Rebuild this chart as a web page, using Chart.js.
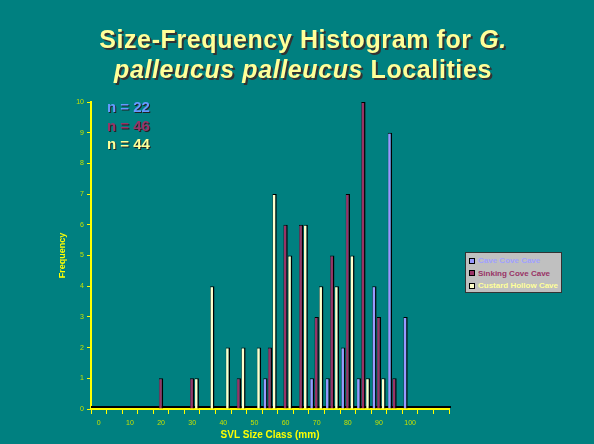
<!DOCTYPE html>
<html>
<head>
<meta charset="utf-8">
<script src="https://cdn.jsdelivr.net/npm/chart.js@4"></script>
<style>
  html, body { margin: 0; padding: 0; background: #008080; }
  #wrap { position: relative; width: 594px; height: 444px; background: #008080; overflow: hidden; }
  #myChart { position: absolute; left: 0; top: 0; }
  .title {
    position: absolute; left: 0; width: 606px; text-align: center;
    font-family: "Liberation Sans", Arial, sans-serif; font-weight: bold; font-size: 25px;
    letter-spacing: 0.6px;
    color: #FFFF99; text-shadow: 2px 2px 0 #333;
    line-height: 30px;
  }
  .ncount {
    position: absolute; left: 107px;
    font-family: "Liberation Sans", Arial, sans-serif; font-weight: bold; font-size: 15px;
    text-shadow: 1px 1px 0 #222;
  }
  #legend {
    position: absolute; left: 465px; top: 252px; width: 97px; height: 41px;
    background: #C0C0C0; border: 1px solid #333; box-sizing: border-box;
    font-family: "Liberation Sans", Arial, sans-serif; font-weight: bold; font-size: 8px;
    padding: 2px 0 0 3px;
  }
  #legend div { height: 12.5px; line-height: 12.5px; white-space: nowrap; }
  #legend span.sw { display: inline-block; width: 4px; height: 4px; border: 1px solid #000; margin-right: 3px; vertical-align: middle; }
</style>
</head>
<body>
<div id="wrap">
  <canvas id="myChart" width="594" height="444"></canvas>
  <div class="title" style="top:24px">Size-Frequency Histogram for <i>G.</i></div>
  <div class="title" style="top:54px"><i>palleucus palleucus</i> Localities</div>
  <div id="counts"></div>
  <div id="legend"></div>
</div>
<script>
// SVL size classes (mm)
const sizeClasses = [0, 5, 10, 15, 20, 25, 30, 35, 40, 45, 50, 55, 60, 65, 70, 75, 80, 85, 90, 95, 100, 105, 110];
const xTickLabels = ['0', '', '10', '', '20', '', '30', '', '40', '', '50', '', '60', '', '70', '', '80', '', '90', '', '100', '', ''];
const yTickLabels = ['0', '1', '2', '3', '4', '5', '6', '7', '8', '9', '10'];

const seriesNames = ['Cave Cove Cave', 'Sinking Cove Cave', 'Custard Hollow Cave'];
const seriesColors = ['#9999FF', '#993366', '#FFFFCC'];
const legendTextColors = ['#A0A0FF', '#993366', '#FFFF99'];
const countColors = ['#6699FF', '#993366', '#FFFF99'];
const sampleSizes = [22, 46, 44];

const caveCove = [0, 0, 0, 0, 0, 0, 0, 0, 0, 0, 0, 1, 0, 0, 1, 1, 2, 1, 4, 9, 3, 0, 0];
const sinkingCove = [0, 0, 0, 0, 1, 0, 1, 0, 0, 1, 0, 2, 6, 6, 3, 5, 7, 10, 3, 1, 0, 0, 0];
const custardHollow = [0, 0, 0, 0, 0, 0, 1, 4, 2, 2, 2, 7, 5, 6, 4, 4, 5, 1, 1, 0, 0, 0, 0];
const seriesValues = [caveCove, sinkingCove, custardHollow];

// n = ... labels
const counts = document.getElementById('counts');
sampleSizes.forEach(function(n, i) {
    const d = document.createElement('div');
    d.className = 'ncount';
    d.style.top = (98 + i * 18.5) + 'px';
    d.style.color = countColors[i];
    d.textContent = 'n = ' + n;
    counts.appendChild(d);
});

// legend box
const legend = document.getElementById('legend');
seriesNames.forEach(function(name, i) {
    const row = document.createElement('div');
    row.style.color = legendTextColors[i];
    row.innerHTML = '<span class="sw" style="background:' + seriesColors[i] + '"></span>' + name;
    legend.appendChild(row);
});

const tickColor = '#C4E000';
const axisYellow = '#FFFF00';

// dark 3D floor line just above the category axis
const floorLine = {
    id: 'floorLine',
    beforeDatasetsDraw: function(chart) {
        const a = chart.chartArea;
        const c = chart.ctx;
        c.save();
        c.strokeStyle = '#000000';
        c.lineWidth = 2;
        c.beginPath();
        c.moveTo(a.left, a.bottom - 2);
        c.lineTo(a.right + 2, a.bottom - 2);
        c.stroke();
        c.restore();
    }
};

const ctx = document.getElementById('myChart').getContext('2d');
new Chart(ctx, {
    type: 'bar',
    data: {
        labels: sizeClasses,
        datasets: seriesNames.map(function(name, i) {
            return {
                label: name,
                data: seriesValues[i],
                backgroundColor: seriesColors[i],
                borderColor: '#000000',
                borderWidth: { top: 1, left: 0.5, right: 1.5, bottom: 0 },
                borderSkipped: false,
                categoryPercentage: 0.88,
                barPercentage: 0.95
            };
        })
    },
    plugins: [floorLine],
    options: {
        responsive: false,
        animation: false,
        layout: { padding: { left: 51, top: 102, right: 145, bottom: 0 } },
        plugins: {
            legend: { display: false },
            tooltip: { enabled: false }
        },
        scales: {
            x: {
                afterFit: function(s) { s.height = 35; },
                grid: { display: true, drawOnChartArea: false, color: axisYellow, tickLength: 5, offset: true },
                border: { color: axisYellow, width: 2 },
                ticks: {
                    autoSkip: false, maxRotation: 0, color: tickColor, padding: 5,
                    font: { family: 'Liberation Sans', size: 7 },
                    callback: function(v, i) { return xTickLabels[i]; }
                },
                title: {
                    display: true, text: 'SVL Size Class (mm)', color: axisYellow,
                    font: { family: 'Liberation Sans', size: 10, weight: 'bold' },
                    padding: { top: 0, bottom: 3 }
                }
            },
            y: {
                min: 0, max: 10,
                afterFit: function(s) { s.width = 40; },
                grid: { display: true, drawOnChartArea: false, color: axisYellow, tickLength: 4 },
                border: { color: axisYellow, width: 2 },
                ticks: {
                    stepSize: 1, color: tickColor, padding: 3,
                    font: { family: 'Liberation Sans', size: 7 },
                    callback: function(v) { return yTickLabels[v]; }
                },
                title: {
                    display: true, text: 'Frequency', color: axisYellow,
                    font: { family: 'Liberation Sans', size: 9, weight: 'bold' },
                    padding: { top: 6, bottom: 0 }
                }
            }
        }
    }
});
</script>
</body>
</html>
